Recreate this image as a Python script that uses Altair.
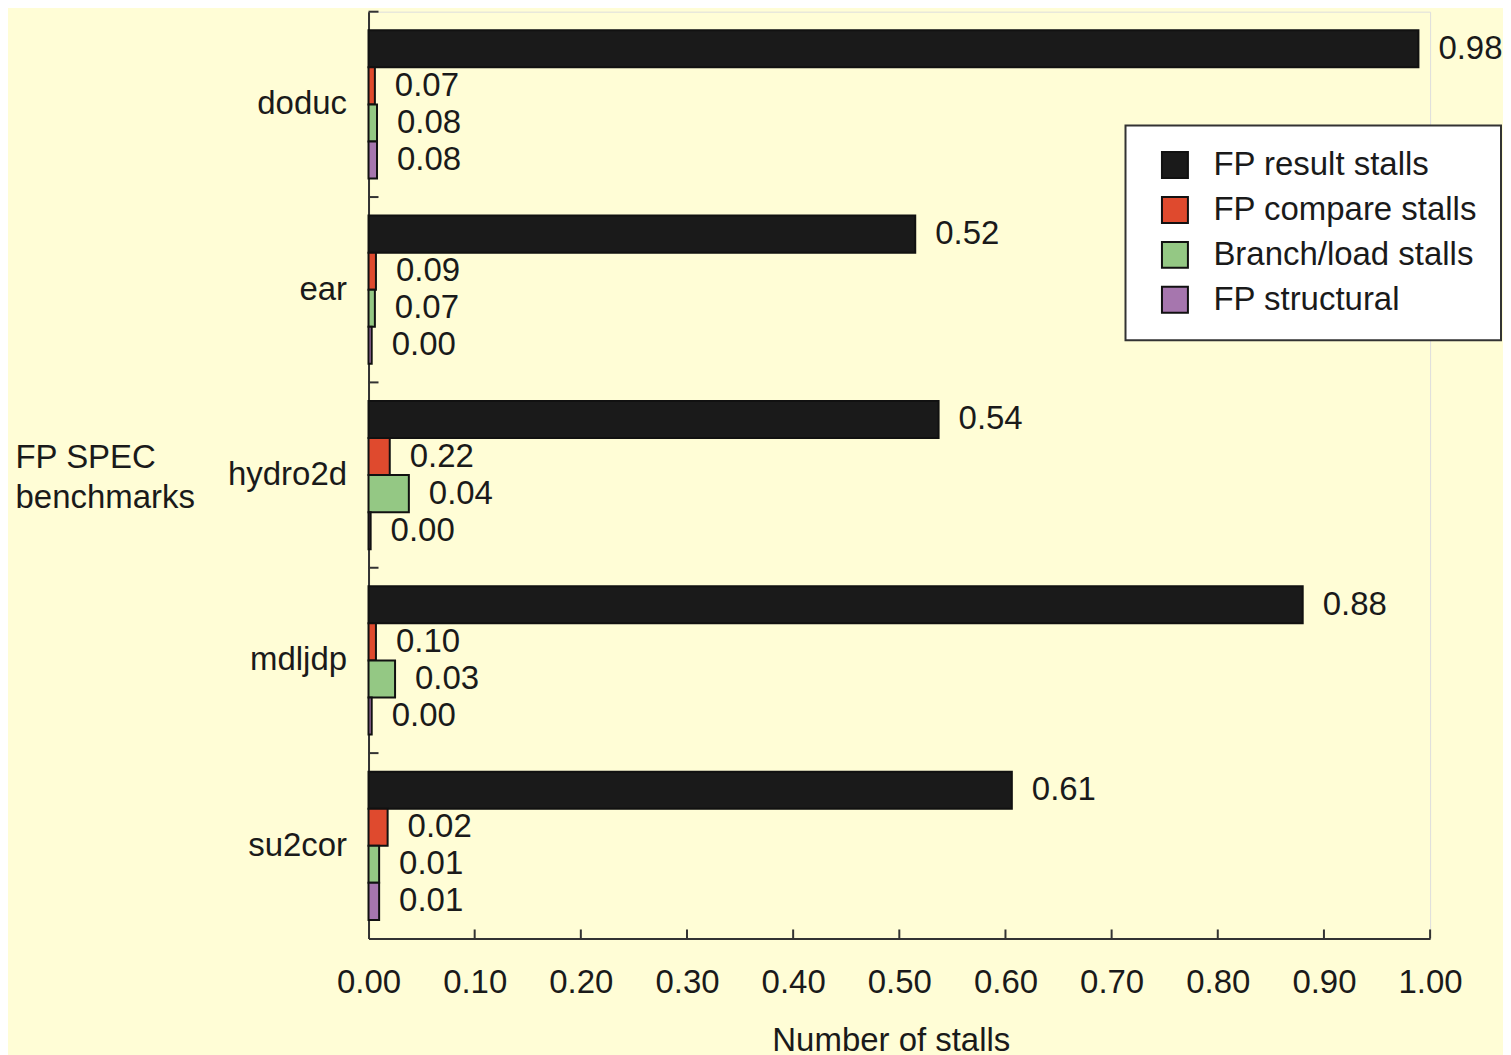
import altair as alt
import pandas as pd

benchmarks = ["doduc", "ear", "hydro2d", "mdljdp", "su2cor"]
series = ["FP result stalls", "FP compare stalls", "Branch/load stalls", "FP structural"]
colors = ["#1a1a1a", "#DF4A2E", "#94C884", "#A676AE"]

# bar lengths as drawn in the picture
result_len = [0.989, 0.515, 0.537, 0.880, 0.606]
compare_len = [0.006, 0.007, 0.020, 0.007, 0.018]
branch_len = [0.008, 0.006, 0.038, 0.025, 0.010]
struct_len = [0.008, 0.003, 0.002, 0.003, 0.010]

# printed value labels
result_lab = ["0.98", "0.52", "0.54", "0.88", "0.61"]
compare_lab = ["0.07", "0.09", "0.22", "0.10", "0.02"]
branch_lab = ["0.08", "0.07", "0.04", "0.03", "0.01"]
struct_lab = ["0.08", "0.00", "0.00", "0.00", "0.01"]

x_ticks = [0.1, 0.2, 0.3, 0.4, 0.5, 0.6, 0.7, 0.8, 0.9, 1.0]
x_labels = [0.0, 0.1, 0.2, 0.3, 0.4, 0.5, 0.6, 0.7, 0.8, 0.9, 1.0]

rows = []
for s, lens, labs in zip(series, [result_len, compare_len, branch_len, struct_len],
                         [result_lab, compare_lab, branch_lab, struct_lab]):
    for b, v, l in zip(benchmarks, lens, labs):
        rows.append({"benchmark": b, "series": s, "value": v, "label": l})
df = pd.DataFrame(rows)

FONT = "Liberation Sans"
FS = 33
W, H = 1063, 928

xenc = alt.X("value:Q", scale=alt.Scale(domain=[0, 1], nice=False, zero=True),
             axis=alt.Axis(values=x_labels, format=".2f", ticks=False, grid=False,
                           labelFlush=False, labelOverlap=False,
                           labelPadding=28, labelFontSize=FS, labelColor="#1a1a1a",
                           domainColor="#333", domainWidth=2,
                           title="Number of stalls", titleFontSize=FS,
                           titleFontWeight="normal", titleColor="#1a1a1a",
                           titleX=523, titleY=112, titleBaseline="alphabetic",
                           titleAlign="center"))
yenc = alt.Y("benchmark:N", sort=benchmarks,
             scale=alt.Scale(paddingInner=0.2, paddingOuter=0.1),
             axis=alt.Axis(ticks=False, grid=False, labelPadding=22, labelFontSize=FS,
                           labelColor="#1a1a1a", domainColor="#333", domainWidth=2,
                           title=["FP SPEC", "benchmarks"], titleAngle=0,
                           titleAlign="left", titleBaseline="alphabetic",
                           titleX=-354, titleY=456, titleFontSize=FS,
                           titleFontWeight="normal", titleColor="#1a1a1a",
                           titleLineHeight=40))
yoff = alt.YOffset("series:N", sort=series,
                   scale=alt.Scale(paddingInner=0, paddingOuter=0))

base = alt.Chart(df)
bars = base.mark_bar(stroke="#111", strokeWidth=2).encode(
    x=xenc, y=yenc, yOffset=yoff,
    color=alt.Color("series:N", sort=series,
                    scale=alt.Scale(domain=series, range=colors),
                    legend=alt.Legend(orient="none", legendX=758, legendY=114,
                                      title=None, symbolType="square",
                                      symbolSize=676, symbolStrokeColor="#111",
                                      symbolStrokeWidth=2, labelFontSize=FS,
                                      labelLimit=0,
                                      labelColor="#1a1a1a", fillColor="white",
                                      strokeColor="#333", padding=23,
                                      rowPadding=10, labelOffset=22,
                                      symbolOffset=10)))

text = base.mark_text(align="left", baseline="middle", dx=20, fontSize=FS,
                      color="#1a1a1a", font=FONT).encode(
    x="value:Q", y=alt.Y("benchmark:N", sort=benchmarks), yOffset=yoff,
    text="label:N")

xt = alt.Chart(pd.DataFrame({"value": x_ticks})).mark_rule(
    color="#333", strokeWidth=2).encode(
    x="value:Q", y=alt.value(H), y2=alt.value(H - 9))

yt = alt.Chart(pd.DataFrame({"benchmark": benchmarks})).mark_rule(
    color="#333", strokeWidth=2, yOffset=-H / 5 * 0.1).encode(
    y=alt.Y("benchmark:N", sort=benchmarks, bandPosition=0),
    x=alt.value(0), x2=alt.value(10))

chart = alt.layer(bars, text, xt, yt).properties(
    width=W, height=H,
    padding={"left": 7, "top": 2, "right": 0, "bottom": 5},
    background="#FFFDD6",
).configure_view(stroke="transparent", strokeWidth=0).configure(font=FONT).configure_legend(strokeWidth=2)

chart.save("out.html", embed_options={"renderer": "svg", "actions": False})
